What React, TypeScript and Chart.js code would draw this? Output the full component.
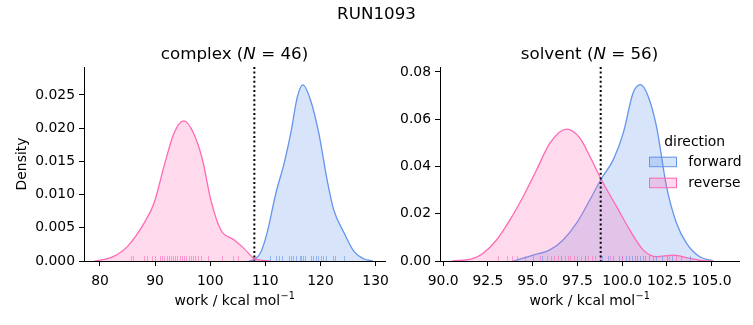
import React, { useEffect, useRef } from 'react';
import { Chart, registerables } from 'chart.js';

Chart.register(...registerables);

const FONT = "'DejaVu Sans', sans-serif";
const BLUE = 'rgb(100,149,237)';
const PINK = 'rgb(255,105,180)';
const BLUE_FILL = 'rgba(100,149,237,0.25)';
const PINK_FILL = 'rgba(255,105,180,0.25)';

const suptitle = 'RUN1093';
const legendTitle = 'direction';
const seriesNames = ['forward', 'reverse'];

// ---- complex panel ----
const complexForwardX = [107.0, 107.9, 109.1, 110.3, 111.9, 113.4, 114.6, 115.8, 116.8, 118.2, 119.7, 121.2, 122.4, 124.3, 126.1, 127.9, 129.5];
const complexForwardY = [0, 0.0002, 0.0012, 0.0042, 0.0102, 0.0147, 0.0192, 0.0247, 0.0265, 0.0242, 0.0192, 0.0122, 0.0077, 0.0042, 0.0014, 0.0003, 0];
const complexReverseX = [79.0, 80.5, 82.5, 85.0, 88.0, 89.8, 91.6, 93.4, 95.2, 97.0, 98.6, 100.1, 101.9, 104.3, 106.1, 107.9, 109.5, 111.0];
const complexReverseY = [0, 0.0002, 0.0007, 0.0022, 0.0057, 0.0087, 0.0142, 0.0192, 0.0211, 0.0192, 0.0152, 0.0092, 0.0047, 0.0032, 0.0019, 0.0004, 0.0001, 0];
const complexRugForward = [110.8, 112.0, 112.4, 113.0, 114.2, 114.6, 115.0, 115.6, 116.2, 116.5, 116.8, 117.2, 118.3, 118.7, 119.1, 119.5, 120.1, 120.5, 121.0, 122.2, 122.7, 124.2];
const complexRugReverse = [85.6, 86.0, 88.0, 88.5, 89.4, 89.9, 90.8, 91.3, 91.7, 92.1, 92.5, 92.9, 93.3, 93.6, 94.0, 94.5, 94.8, 95.2, 95.6, 96.1, 96.5, 96.9, 97.3, 97.8, 98.3, 99.6, 102.1, 104.2, 105.1];
const complexXTicks = [80, 90, 100, 110, 120, 130];
const complexYTicks = [0, 0.005, 0.01, 0.015, 0.02, 0.025];
const complexXRange = [77.1, 131.7];
const complexYMax = 0.0292;
const complexVLine = 108.0;
const complexN = 46;

// ---- solvent panel ----
const solventForwardX = [93.9, 95.03, 95.96, 96.7, 97.45, 98.2, 98.85, 99.5, 100.06, 100.61, 101.03, 101.45, 101.92, 102.48, 103.04, 103.6, 104.34, 105.1];
const solventForwardY = [0, 0.0025, 0.0047, 0.0089, 0.016, 0.0259, 0.035, 0.0428, 0.0541, 0.0711, 0.0746, 0.0697, 0.0569, 0.0315, 0.016, 0.0075, 0.0018, 0];
const solventReverseX = [90.5, 91.68, 92.23, 92.98, 93.73, 94.47, 95.22, 95.96, 96.89, 97.64, 98.2, 98.85, 99.69, 100.43, 101.17, 101.92, 102.85, 103.78, 104.5, 105.0];
const solventReverseY = [0, 0.0011, 0.0033, 0.0089, 0.0174, 0.0273, 0.0386, 0.0499, 0.0558, 0.052, 0.0442, 0.0343, 0.023, 0.0131, 0.0047, 0.0018, 0.0025, 0.0011, 0.0001, 0];
const solventRugForward = [95.5, 96.6, 97.9, 98.9, 99.2, 99.5, 99.8, 100.0, 100.2, 100.4, 100.55, 100.7, 100.85, 101.0, 101.15, 101.3, 101.5, 101.7, 101.9, 102.2, 102.5, 102.8, 103.3, 103.8];
const solventRugReverse = [93.07, 93.54, 93.82, 94.13, 94.56, 95.03, 95.4, 95.8, 96.0, 96.2, 96.4, 96.6, 96.8, 96.95, 97.1, 97.3, 97.5, 97.7, 97.9, 98.1, 98.3, 98.5, 98.75, 99.3, 100.0, 102.6, 103.0];
const solventXTicks = [90, 92.5, 95, 97.5, 100, 102.5, 105];
const solventYTicks = [0, 0.02, 0.04, 0.06, 0.08];
const solventXRange = [89.82, 106.53];
const solventYMax = 0.0821;
const solventVLine = 98.8;
const solventN = 56;

const W = 753;
const H = 325;

type Panel = {
  name: string;
  n: number;
  fx: number[]; fy: number[]; rx: number[]; ry: number[];
  rugF: number[]; rugR: number[];
  xTicks: number[]; yTicks: number[];
  xRange: number[]; yMax: number;
  vline: number;
  xDigits: number; yDigits: number;
  padLeft: number; padRight: number; yWidth: number;
  yLabel: boolean; legend: boolean; sup: boolean;
};

const panels: Panel[] = [
  {
    name: 'complex', n: complexN,
    fx: complexForwardX, fy: complexForwardY, rx: complexReverseX, ry: complexReverseY,
    rugF: complexRugForward, rugR: complexRugReverse,
    xTicks: complexXTicks, yTicks: complexYTicks, xRange: complexXRange, yMax: complexYMax,
    vline: complexVLine, xDigits: 0, yDigits: 3,
    padLeft: 0, padRight: W - 385, yWidth: 84,
    yLabel: true, legend: false, sup: true,
  },
  {
    name: 'solvent', n: solventN,
    fx: solventForwardX, fy: solventForwardY, rx: solventReverseX, ry: solventReverseY,
    rugF: solventRugForward, rugR: solventRugReverse,
    xTicks: solventXTicks, yTicks: solventYTicks, xRange: solventXRange, yMax: solventYMax,
    vline: solventVLine, xDigits: 1, yDigits: 2,
    padLeft: 390, padRight: W - 739, yWidth: 50,
    yLabel: false, legend: true, sup: false,
  },
];

const makePlugin = (p: Panel) => ({
  id: 'decor_' + p.name,
  afterDatasetsDraw(chart: any) {
    const { ctx, chartArea: a } = chart;
    const x = chart.scales.x;
    ctx.save();
    const rug = (vals: number[], color: string) => {
      ctx.strokeStyle = color;
      ctx.lineWidth = 1;
      vals.forEach((v) => {
        const px = Math.round(x.getPixelForValue(v)) + 0.5;
        ctx.beginPath();
        ctx.moveTo(px, a.bottom);
        ctx.lineTo(px, a.bottom - 5);
        ctx.stroke();
      });
    };
    rug(p.rugF, 'rgba(100,149,237,0.6)');
    rug(p.rugR, 'rgba(255,105,180,0.6)');
    ctx.strokeStyle = '#000';
    ctx.lineWidth = 2;
    ctx.setLineDash([2, 2.6]);
    const vx = x.getPixelForValue(p.vline);
    ctx.beginPath();
    ctx.moveTo(vx, a.top);
    ctx.lineTo(vx, a.bottom);
    ctx.stroke();
    ctx.restore();
  },
  afterDraw(chart: any) {
    const { ctx, chartArea: a } = chart;
    const cx = (a.left + a.right) / 2;
    ctx.save();
    ctx.fillStyle = '#000';
    ctx.textBaseline = 'alphabetic';
    // subplot title
    const tf = `16.7px ${FONT}`;
    const tfi = `oblique 16.7px ${FONT}`;
    const partA = p.name + ' (';
    const partN = 'N';
    const partB = ` = ${p.n})`;
    ctx.font = tf;
    const wA = ctx.measureText(partA).width;
    const wB = ctx.measureText(partB).width;
    ctx.font = tfi;
    const wN = ctx.measureText(partN).width;
    const sx = cx - (wA + wN + wB) / 2;
    const ty = 59;
    ctx.textAlign = 'left';
    ctx.font = tf;
    ctx.fillText(partA, sx, ty);
    ctx.font = tfi;
    ctx.fillText(partN, sx + wA, ty);
    ctx.font = tf;
    ctx.fillText(partB, sx + wA + wN, ty);
    // x label with superscript
    const lf = `13.9px ${FONT}`;
    const sf = `9.7px ${FONT}`;
    const main = 'work / kcal mol';
    const sup = '\u22121';
    ctx.font = lf;
    const wm = ctx.measureText(main).width;
    ctx.font = sf;
    const ws = ctx.measureText(sup).width;
    const lx = cx - (wm + ws) / 2;
    const ly = 304.5;
    ctx.font = lf;
    ctx.fillText(main, lx, ly);
    ctx.font = sf;
    ctx.fillText(sup, lx + wm + 0.5, ly - 5.5);
    // y label
    if (p.yLabel) {
      ctx.save();
      ctx.font = lf;
      ctx.textAlign = 'center';
      ctx.translate(26, (a.top + a.bottom) / 2);
      ctx.rotate(-Math.PI / 2);
      ctx.fillText('Density', 0, 0);
      ctx.restore();
    }
    // suptitle
    if (p.sup) {
      ctx.font = tf;
      ctx.textAlign = 'center';
      ctx.fillText(suptitle, W / 2, 18.5);
    }
    // legend
    if (p.legend) {
      ctx.font = lf;
      ctx.textAlign = 'center';
      ctx.fillText(legendTitle, 694.7, 146);
      const items = [
        { label: seriesNames[0], stroke: BLUE, fill: BLUE_FILL, y: 156.7 },
        { label: seriesNames[1], stroke: PINK, fill: PINK_FILL, y: 177.7 },
      ];
      items.forEach((it) => {
        ctx.fillStyle = it.fill;
        ctx.fillRect(649, it.y, 28, 10);
        ctx.strokeStyle = it.stroke;
        ctx.lineWidth = 1;
        ctx.strokeRect(649.5, it.y + 0.5, 27, 9.5);
        ctx.fillStyle = '#000';
        ctx.textAlign = 'left';
        ctx.fillText(it.label, 688.3, it.y + 9.7);
      });
    }
    ctx.restore();
  },
});

function buildConfig(p: Panel): any {
  const tickFont = { family: FONT, size: 13.9 };
  return {
    type: 'line',
    data: {
      datasets: [
        {
          label: seriesNames[1],
          data: p.rx.map((v, i) => ({ x: v, y: p.ry[i] })),
          borderColor: PINK,
          backgroundColor: PINK_FILL,
          fill: 'origin',
          borderWidth: 1.3,
          pointRadius: 0,
          cubicInterpolationMode: 'monotone',
        },
        {
          label: seriesNames[0],
          data: p.fx.map((v, i) => ({ x: v, y: p.fy[i] })),
          borderColor: BLUE,
          backgroundColor: BLUE_FILL,
          fill: 'origin',
          borderWidth: 1.3,
          pointRadius: 0,
          cubicInterpolationMode: 'monotone',
        },
      ],
    },
    options: {
      animation: false,
      responsive: false,
      maintainAspectRatio: false,
      events: [],
      layout: { padding: { left: p.padLeft, right: p.padRight, top: 67, bottom: 0 } },
      plugins: { legend: { display: false }, tooltip: { enabled: false }, title: { display: false } },
      scales: {
        x: {
          type: 'linear',
          min: p.xRange[0],
          max: p.xRange[1],
          afterBuildTicks: (s: any) => { s.ticks = p.xTicks.map((v) => ({ value: v })); },
          afterFit: (s: any) => { s.height = 64; },
          grid: { drawOnChartArea: false, drawTicks: true, tickLength: 5, color: '#000', lineWidth: 1 },
          border: { display: true, color: '#000', width: 1 },
          ticks: {
            color: '#000', font: tickFont, padding: 7, maxRotation: 0, autoSkip: false,
            callback: (v: any) => Number(v).toFixed(p.xDigits),
          },
        },
        y: {
          type: 'linear',
          min: 0,
          max: p.yMax,
          afterBuildTicks: (s: any) => { s.ticks = p.yTicks.map((v) => ({ value: v })); },
          afterFit: (s: any) => { s.width = p.yWidth; },
          grid: { drawOnChartArea: false, drawTicks: true, tickLength: 5, color: '#000', lineWidth: 1 },
          border: { display: true, color: '#000', width: 1 },
          ticks: {
            color: '#000', font: tickFont, padding: 4, autoSkip: false,
            callback: (v: any) => Number(v).toFixed(p.yDigits),
          },
        },
      },
    },
    plugins: [makePlugin(p)],
  };
}

export default function App() {
  const ref0 = useRef<HTMLCanvasElement | null>(null);
  const ref1 = useRef<HTMLCanvasElement | null>(null);
  useEffect(() => {
    document.body.style.margin = '0';
    const charts: Chart[] = [];
    [ref0, ref1].forEach((r, i) => {
      if (r.current) charts.push(new Chart(r.current, buildConfig(panels[i])));
    });
    return () => charts.forEach((c) => c.destroy());
  }, []);
  const cs: React.CSSProperties = { position: 'absolute', left: 0, top: 0, display: 'block' };
  return (
    <div style={{ position: 'relative', width: W, height: H, background: '#fff', overflow: 'hidden' }}>
      <canvas ref={ref0} width={W} height={H} style={cs} />
      <canvas ref={ref1} width={W} height={H} style={cs} />
    </div>
  );
}
